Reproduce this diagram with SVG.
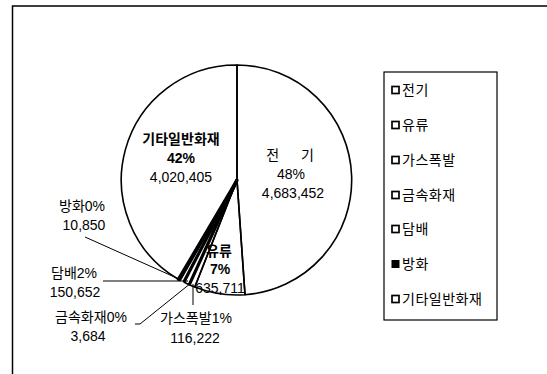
<svg xmlns="http://www.w3.org/2000/svg" width="547" height="374" viewBox="0 0 547 374">
<style>
text{font-family:"Liberation Sans","Noto Sans CJK KR",sans-serif;font-size:14px;fill:#000;text-anchor:middle}
.b{font-weight:bold}
.lg{text-anchor:start;font-size:14px;letter-spacing:0.5px}
.edge{fill:none;stroke:#000;stroke-width:1.6;stroke-linejoin:round}
.thick{stroke:#000;stroke-width:3.2;stroke-linecap:butt}
.lead{fill:none;stroke:#000;stroke-width:1}
.sw{fill:#fff;stroke:#000;stroke-width:1.7}
</style>
<defs>
<pattern id="dots" width="7" height="7" patternUnits="userSpaceOnUse">
<rect width="7" height="7" fill="#fff"/>
<rect x="1" y="2" width="1" height="1" fill="#666"/>
<rect x="5" y="5" width="1" height="1" fill="#888"/>
<rect x="4" y="0" width="1" height="1" fill="#aaa"/>
</pattern>
</defs>
<rect width="547" height="374" fill="#fff"/>
<g id="frame">
<path d="M12.5 374 V6 H547" fill="none" stroke="#000" stroke-width="1.5"/>
</g>
<g id="pie">
<g id="slice-jeongi"><path class="edge" d="M237 180 L237 65 A115 115 0 0 1 245 294.7 Z" fill="#fff"/></g>
<g id="slice-yuryu"><path class="edge" d="M237 180 L245 294.7 A115 115 0 0 1 194.8 287 Z" fill="url(#dots)"/></g>
<g id="slice-gas"><path class="edge" d="M237 180 L194.8 287 A115 115 0 0 1 189.3 284.7 Z" fill="#fff"/></g>
<g id="slice-metal"><line class="thick" x1="237" y1="180" x2="189.3" y2="284.7"/></g>
<g id="slice-tobacco"><path class="edge" d="M237 180 L189.3 284.7 A115 115 0 0 1 183.9 282 Z" fill="#fff"/><line class="thick" x1="237" y1="180" x2="183.9" y2="282"/></g>
<g id="slice-arson"><path d="M237 180 L179.8 279.8 A115 115 0 0 1 178.3 279.3 Z" fill="#000" stroke="#000" stroke-width="3" stroke-linejoin="round"/></g>
<g id="slice-etc"><path class="edge" d="M237 180 L178.3 279.3 A115 115 0 0 1 237 65 Z" fill="#fff"/></g>
</g>
<g id="connectors">
<polyline class="lead" points="85,237 179,279"/>
<polyline class="lead" points="103,281 188,281"/>
<polyline class="lead" points="135,324 140,324 191,283"/>
<polyline class="lead" points="193,284 193,305"/>
</g>
<g id="labels">
<g id="label-etc"><text class="b" x="181" y="144">기타일반화재</text><text class="b" x="181" y="163">42%</text><text x="181" y="182">4,020,405</text></g>
<g id="label-jeongi"><text x="290" y="160">전 <tspan dx="18">기</tspan></text><text x="291" y="179">48%</text><text x="293" y="198">4,683,452</text></g>
<g id="label-yuryu"><text class="b" x="219" y="256">유류</text><text class="b" x="220" y="274">7%</text><text x="220" y="293">635,711</text></g>
<g id="label-arson"><text x="82" y="211">방화0%</text><text x="84" y="230">10,850</text></g>
<g id="label-tobacco"><text x="74" y="278">담배2%</text><text x="75" y="297">150,652</text></g>
<g id="label-metal"><text x="91" y="322">금속화재0%</text><text x="88" y="341">3,684</text></g>
<g id="label-gas"><text x="196" y="323">가스폭발1%</text><text x="195" y="343">116,222</text></g>
</g>
<g id="legend">
<rect x="384" y="72" width="113" height="248" fill="#fff" stroke="#000" stroke-width="1.2"/>
<g id="lg-1"><rect class="sw" x="392" y="86.5" width="7" height="7"/><text class="lg" x="402" y="95">전기</text></g>
<g id="lg-2"><rect class="sw" x="392" y="121.5" width="7" height="7"/><text class="lg" x="402" y="130">유류</text></g>
<g id="lg-3"><rect class="sw" x="392" y="156.5" width="7" height="7"/><text class="lg" x="402" y="165">가스폭발</text></g>
<g id="lg-4"><rect class="sw" x="392" y="191.5" width="7" height="7"/><text class="lg" x="402" y="200">금속화재</text></g>
<g id="lg-5"><rect class="sw" x="392" y="225.5" width="7" height="7"/><text class="lg" x="402" y="234">담배</text></g>
<g id="lg-6"><rect x="391.5" y="260" width="8" height="8" fill="#000"/><text class="lg" x="402" y="269">방화</text></g>
<g id="lg-7"><rect class="sw" x="392" y="295.5" width="7" height="7"/><text class="lg" x="402" y="304">기타일반화재</text></g>
</g>
</svg>
